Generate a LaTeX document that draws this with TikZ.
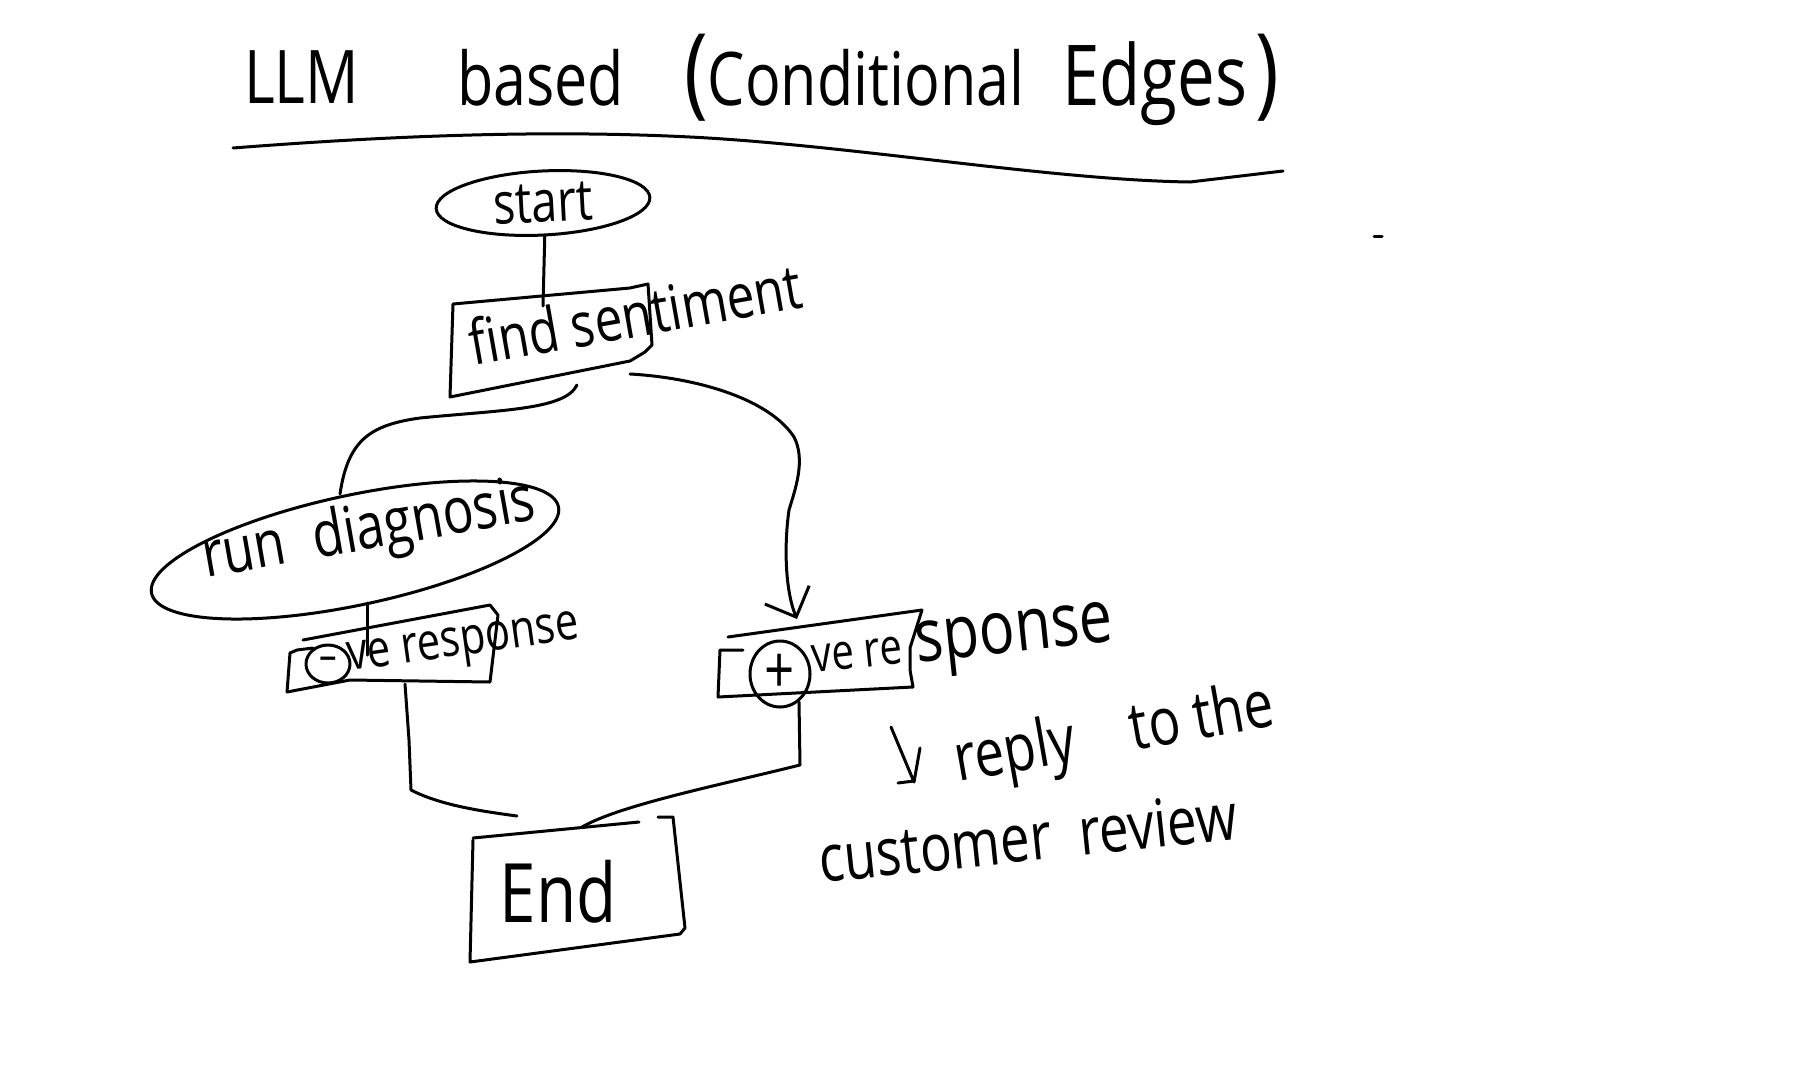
\documentclass[tikz,border=0pt]{standalone}
\usepackage{fontspec}
\newfontfamily\hand[FakeStretch=0.8]{Open Sans}
\usetikzlibrary{arrows.meta,shapes.geometric}
\tikzset{
  ink/.style={line width=3pt, line cap=round, line join=round, black},
  hsize/.style={font={\hand\fontsize{#1}{#1}\selectfont}, inner sep=0pt},
  hwtext/.style={anchor=base west, inner sep=0pt},
  arr/.style={-{Straight Barb[length=24pt,width=48pt]}}
}
\begin{document}
\begin{tikzpicture}[x=1pt,y=1pt]
\useasboundingbox (0,0) rectangle (1803,-1074);
\fill[white] (0,0) rectangle (1803,-1074);

% title
\node[hwtext, hsize=74] (tLLM) at (244,-103) {LLM};
\node[hwtext, hsize=74] (tbased) at (457,-105) {based};
\node[hwtext, hsize=74] (tcond) at (684,-105) {{\fontsize{100}{100}\selectfont(}Conditional\hspace{38pt}{\fontsize{84}{84}\selectfont Edges}\hspace{8pt}{\fontsize{100}{100}\selectfont)}};
\draw[ink] (233,-148) .. controls (400,-135) and (550,-130) .. (690,-137) .. controls (850,-145) and (1050,-180) .. (1190,-182) -- (1283,-171);
\draw[ink] (1374,-236) -- (1382,-236);

% start
\node[ink, draw, ellipse, minimum width=214, minimum height=64, rotate=3, hsize=58] (start) at (543,-203) {start};

% find sentiment
\draw[ink] (453,-304) -- (630,-288) -- (648,-284) -- (652,-345) -- (645,-352) -- (630,-361) -- (450,-397) -- cycle;
\node[hwtext, hsize=62, rotate=10] (fstext) at (473,-366) {find sentiment};
\coordinate (fsIn) at (543,-306);
\draw[ink] (start.south) -- (fsIn);

% run diagnosis
\node[ink, draw, ellipse, minimum width=416, minimum height=110, rotate=12] (rd) at (355,-550) {};
\node[hwtext, hsize=64, rotate=10] (rdtext) at (206,-578) {run\hspace{28pt}diagnosis};
\coordinate (fsOutL) at (577,-385);
\coordinate (rdIn) at (340,-494);
\draw[ink] (fsOutL) .. controls (565,-410) and (500,-410) .. (420,-418) .. controls (370,-425) and (348,-440) .. (rdIn);

% right branch
\coordinate (fsOutR) at (630,-374);
\coordinate (pvIn) at (797,-619);
\draw[ink, arr] (fsOutR) .. controls (700,-378) and (770,-400) .. (794,-437) .. controls (806,-460) and (795,-490) .. (789,-510) .. controls (784,-545) and (785,-590) .. (pvIn);

% -ve response
\draw[ink] (313,-648) -- (297,-650) -- (290,-653) -- (287,-692) -- (350,-680) -- (490,-682) -- (498,-615) -- (490,-605) -- (303,-640);
\node[ink, draw, ellipse, minimum width=44, minimum height=38, hsize=44] (nc) at (328,-664) {–};
\node[hwtext, hsize=52, rotate=8] (nvtext) at (349,-671) {ve response};
\coordinate (rdOut) at (367,-603);
\coordinate (nvIn) at (367,-655);
\draw[ink] (rdOut) -- (nvIn);

% +ve response
\draw[ink] (743,-650) -- (720,-650) -- (718,-697) -- (913,-687) -- (910,-670) -- (910,-648) -- (922,-610) -- (728,-637);
\node[ink, draw, ellipse, minimum width=60, minimum height=66, hsize=66] (pc) at (780,-674) {+};
\node[hwtext, rotate=6, font=\hand] (pvtext) at (813,-673) {{\fontsize{50}{50}\selectfont ve re}\hspace{14pt}{\fontsize{74}{74}\selectfont sponse}};

% End
\draw[ink] (473,-838) -- (639,-822);
\draw[ink] (658,-817) -- (673,-817) -- (685,-928) -- (680,-934) -- (470,-962) -- (473,-840);
\node[anchor=base, hsize=82] (endtext) at (558,-922) {End};

\coordinate (nvOut) at (405,-684);
\coordinate (endInL) at (517,-816);
\draw[ink] (nvOut) -- (409,-740) -- (411,-790) .. controls (440,-805) and (480,-811) .. (endInL);
\coordinate (pvOut) at (799,-702);
\coordinate (endInR) at (582,-827);
\draw[ink] (pvOut) -- (800,-765) .. controls (720,-785) and (620,-805) .. (endInR);

% annotation
\draw[ink] (891,-727) -- (914,-782) -- (920,-748);
\draw[ink] (898,-783) -- (914,-781);
\node[hwtext, hsize=66, rotate=10] (ann1) at (958,-782) {reply\hspace{56pt}to the};
\node[hwtext, hsize=66, rotate=6] (ann2) at (821,-883) {customer\hspace{28pt}review};
\end{tikzpicture}
\end{document}
